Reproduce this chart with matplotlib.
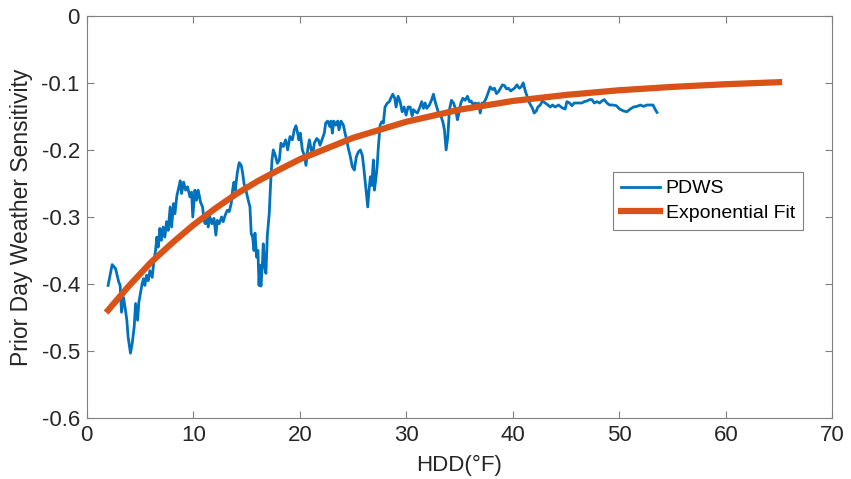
import numpy as np
import matplotlib.pyplot as plt

plt.rcParams['font.family'] = ['Liberation Sans', 'DejaVu Sans']
plt.rcParams['axes.unicode_minus'] = False

# PDWS curve
hdd = [2.0, 2.38, 2.7, 3.0, 3.13, 3.26, 3.45, 3.64, 3.76, 3.88, 4.1, 4.26, 4.45, 4.58,
       4.77, 4.89, 5.08, 5.2, 5.33, 5.45, 5.61, 5.76, 5.92, 6.14, 6.27, 6.45, 6.58, 6.7,
       6.86, 7.0, 7.17, 7.33, 7.49, 7.64, 7.83, 7.96, 8.15, 8.27, 8.46, 8.65, 8.77, 8.9,
       9.09, 9.28, 9.46, 9.68, 9.84, 9.95, 10.15, 10.3, 10.46, 10.68, 10.87, 11.0, 11.12,
       11.25, 11.4, 11.56, 11.75, 11.94, 12.12, 12.25, 12.43, 12.66, 12.81, 13.0, 13.19,
       13.37, 13.56, 13.69, 13.82, 13.94, 14.13, 14.31, 14.5, 14.63, 14.76, 14.94, 15.16,
       15.32, 15.44, 15.57, 15.7, 15.79, 15.95, 16.07, 16.17, 16.26, 16.35, 16.48, 16.57,
       16.7, 16.82, 16.95, 17.13, 17.26, 17.39, 17.51, 17.7, 17.89, 18.08, 18.23, 18.45,
       18.67, 18.86, 19.08, 19.3, 19.48, 19.64, 19.8, 19.92, 20.05, 20.24, 20.42, 20.58,
       20.74, 20.9, 21.05, 21.21, 21.36, 21.59, 21.74, 21.9, 22.12, 22.3, 22.43, 22.62,
       22.81, 22.93, 23.06, 23.19, 23.37, 23.56, 23.68, 23.87, 24.09, 24.25, 24.4, 24.56,
       24.72, 24.93, 25.12, 25.31, 25.5, 25.69, 25.87, 26.0, 26.13, 26.25, 26.38, 26.5,
       26.63, 26.76, 26.91, 27.0, 27.13, 27.26, 27.38, 27.54, 27.7, 27.85, 28.0, 28.23,
       28.41, 28.54, 28.73, 28.92, 29.04, 29.23, 29.42, 29.61, 29.79, 29.98, 30.17, 30.36,
       30.55, 30.67, 30.86, 31.04, 31.23, 31.45, 31.61, 31.77, 31.92, 32.17, 32.36, 32.55,
       32.71, 32.86, 33.05, 33.24, 33.43, 33.58, 33.74, 33.9, 34.05, 34.24, 34.43, 34.61,
       34.8, 34.93, 35.12, 35.31, 35.53, 35.74, 35.93, 36.09, 36.3, 36.47, 36.62, 36.78,
       36.94, 37.1, 37.28, 37.47, 37.66, 37.88, 38.09, 38.28, 38.47, 38.66, 38.84, 39.03,
       39.22, 39.41, 39.6, 39.79, 39.97, 40.16, 40.39, 40.6, 40.79, 40.98, 41.17, 41.32,
       41.48, 41.67, 41.85, 42.01, 42.2, 42.36, 42.58, 42.79, 43.05, 43.3, 43.52, 43.73,
       43.98, 44.3, 44.61, 44.92, 45.08, 45.33, 45.55, 45.77, 46.02, 46.27, 46.49, 46.71,
       46.96, 47.21, 47.43, 47.65, 47.9, 48.15, 48.37, 48.59, 48.84, 49.09, 49.41, 49.72,
       50.03, 50.41, 50.72, 51.03, 51.34, 51.66, 51.97, 52.28, 52.6, 52.98, 53.17, 53.35,
       53.54]
pdws = [-0.402, -0.371, -0.377, -0.397, -0.402, -0.442, -0.42, -0.44, -0.454, -0.479,
        -0.503, -0.489, -0.464, -0.429, -0.454, -0.427, -0.41, -0.399, -0.392, -0.402,
        -0.387, -0.395, -0.38, -0.39, -0.37, -0.35, -0.33, -0.345, -0.317, -0.335, -0.315,
        -0.33, -0.307, -0.32, -0.285, -0.315, -0.28, -0.295, -0.268, -0.255, -0.246,
        -0.265, -0.248, -0.26, -0.255, -0.27, -0.263, -0.30, -0.26, -0.275, -0.26, -0.278,
        -0.285, -0.305, -0.31, -0.297, -0.315, -0.30, -0.31, -0.302, -0.327, -0.305, -0.31,
        -0.30, -0.307, -0.297, -0.29, -0.292, -0.28, -0.26, -0.248, -0.26, -0.234, -0.219,
        -0.223, -0.234, -0.25, -0.26, -0.275, -0.285, -0.325, -0.33, -0.35, -0.324, -0.36,
        -0.35, -0.402, -0.372, -0.403, -0.373, -0.34, -0.373, -0.384, -0.328, -0.295,
        -0.25, -0.215, -0.20, -0.208, -0.22, -0.215, -0.19, -0.195, -0.185, -0.20, -0.18,
        -0.185, -0.17, -0.164, -0.175, -0.185, -0.175, -0.20, -0.208, -0.223, -0.20,
        -0.185, -0.198, -0.208, -0.19, -0.183, -0.185, -0.193, -0.183, -0.175, -0.16,
        -0.157, -0.165, -0.157, -0.175, -0.157, -0.163, -0.157, -0.17, -0.157, -0.163,
        -0.175, -0.185, -0.198, -0.208, -0.225, -0.23, -0.21, -0.203, -0.20, -0.208,
        -0.225, -0.245, -0.265, -0.285, -0.26, -0.24, -0.253, -0.215, -0.26, -0.245,
        -0.225, -0.195, -0.163, -0.158, -0.16, -0.136, -0.13, -0.128, -0.123, -0.117,
        -0.123, -0.136, -0.12, -0.128, -0.143, -0.136, -0.148, -0.136, -0.136, -0.149,
        -0.14, -0.143, -0.145, -0.138, -0.128, -0.138, -0.13, -0.138, -0.133, -0.126,
        -0.117, -0.128, -0.136, -0.146, -0.149, -0.158, -0.17, -0.20, -0.18, -0.14, -0.126,
        -0.13, -0.138, -0.155, -0.146, -0.13, -0.123, -0.126, -0.12, -0.128, -0.127,
        -0.133, -0.13, -0.133, -0.13, -0.145, -0.13, -0.13, -0.124, -0.116, -0.106, -0.11,
        -0.108, -0.116, -0.113, -0.108, -0.103, -0.104, -0.109, -0.108, -0.112, -0.11,
        -0.108, -0.103, -0.108, -0.106, -0.10, -0.112, -0.119, -0.127, -0.133, -0.138,
        -0.145, -0.142, -0.136, -0.133, -0.127, -0.13, -0.133, -0.136, -0.133, -0.136,
        -0.133, -0.137, -0.139, -0.128, -0.13, -0.134, -0.13, -0.13, -0.13, -0.13, -0.128,
        -0.127, -0.125, -0.125, -0.13, -0.128, -0.13, -0.127, -0.125, -0.13, -0.133,
        -0.133, -0.134, -0.139, -0.142, -0.143, -0.139, -0.136, -0.135, -0.133, -0.135,
        -0.133, -0.133, -0.133, -0.139, -0.144]

# exponential fit curve
fit_hdd = [2, 4, 6, 8, 10, 12, 14, 16, 18, 20, 25, 30, 35, 40, 45, 50, 55, 60, 65]
fit_val = [-0.439, -0.402, -0.368, -0.339, -0.312, -0.288, -0.266, -0.247, -0.230,
           -0.214, -0.182, -0.158, -0.140, -0.127, -0.118, -0.111, -0.106, -0.102, -0.099]

fig = plt.figure(figsize=(8.51, 4.79), dpi=100)
ax = fig.add_axes([0.102, 0.127, 0.876, 0.840])

ax.plot(hdd, pdws, color='#0072BD', lw=2.0, label='PDWS')
ax.plot(fit_hdd, fit_val, color='#D95319', lw=4.5, label='Exponential Fit')

ax.set_xlim(0, 70)
ax.set_ylim(-0.6, 0)
ax.set_xticks(np.arange(0, 71, 10))
yt = [-0.6, -0.5, -0.4, -0.3, -0.2, -0.1, 0]
ax.set_yticks(yt)
ax.set_yticklabels(['0' if v == 0 else f'{v:.1f}' for v in yt])

for s in ax.spines.values():
    s.set_color('#808080')
    s.set_linewidth(0.8)
ax.tick_params(direction='in', length=5, width=0.8, color='#808080',
               labelsize=16, top=True, right=True, labelcolor='#262626', pad=5)

ax.set_xlabel('HDD(°F)', fontsize=16, color='#262626', labelpad=6)
ax.set_ylabel('Prior Day Weather Sensitivity', fontsize=16.5, color='#262626', labelpad=6)

leg = ax.legend(loc='upper left', bbox_to_anchor=(0.706, 0.612), fontsize=14,
                fancybox=False, framealpha=1, edgecolor='#808080',
                handlelength=2.0, borderpad=0.4, labelspacing=0.35, handletextpad=0.3,
                borderaxespad=0)
leg.get_frame().set_linewidth(0.8)

fig.savefig('out.png', dpi=100)
